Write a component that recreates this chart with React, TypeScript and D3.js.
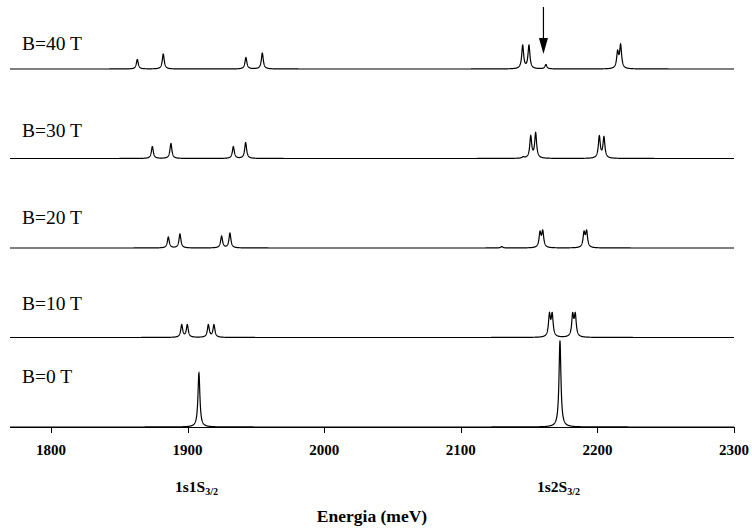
import React from "react";
import * as d3 from "d3";

// ---- data ----
const fieldLabels = ["B=0 T", "B=10 T", "B=20 T", "B=30 T", "B=40 T"];
const peakEnergies: number[][] = [
  [1908.3, 2172.6],
  [1895.7, 1899.8, 1915.2, 1919.3, 2164.9, 2166.9, 2181.9, 2183.8],
  [1885.9, 1894.4, 1924.9, 1931.0, 2130.0, 2158.0, 2160.0, 2190.2, 2192.1],
  [1874.2, 1887.8, 1933.5, 1942.5, 2145.7, 2151.2, 2154.8, 2201.4, 2204.8],
  [1863.2, 1882.2, 1942.7, 1954.7, 2145.3, 2149.9, 2162.3, 2214.8, 2217.0],
];
const peakHeights: number[][] = [
  [54, 86],
  [13, 13, 13, 13, 25, 25, 25, 25],
  [11, 14, 12, 15, 1.5, 17, 18, 17, 18],
  [12, 15, 12, 16, 2, 23, 26, 23, 22],
  [9.5, 15, 11.5, 16, 24, 24, 4.5, 19, 25],
];
const xTicks = [1800, 1900, 2000, 2100, 2200, 2300];
const stateNames = ["1s1S", "1s2S"];
const stateSubs = ["3/2", "3/2"];
const stateEnergies = [1908, 2173];
const arrowEnergy = 2160.5;
const xDomain = [1770, 2300];
const gamma = 0.85;
const offsetStep = 89.5;

function solveAmplitudes(e: number[], h: number[]): number[] {
  const n = e.length;
  const A = e.map((ei) => e.map((ej) => 1 / (1 + ((ei - ej) / gamma) ** 2)));
  const b = h.slice();
  for (let i = 0; i < n; i++) {
    let p = i;
    for (let r = i + 1; r < n; r++) if (Math.abs(A[r][i]) > Math.abs(A[p][i])) p = r;
    [A[i], A[p]] = [A[p], A[i]];
    [b[i], b[p]] = [b[p], b[i]];
    for (let r = i + 1; r < n; r++) {
      const f = A[r][i] / A[i][i];
      for (let c = i; c < n; c++) A[r][c] -= f * A[i][c];
      b[r] -= f * b[i];
    }
  }
  const x = new Array(n).fill(0);
  for (let i = n - 1; i >= 0; i--) {
    let s = b[i];
    for (let c = i + 1; c < n; c++) s -= A[i][c] * x[c];
    x[i] = s / A[i][i];
  }
  return x;
}

export default function App() {
  const W = 752, H = 531;
  const x = d3.scaleLinear().domain(xDomain).range([10, 734]);
  const y = d3.scaleLinear().domain([0, 450]).range([427, -23]);
  const grid = d3.range(xDomain[0], xDomain[1] + 0.001, 0.08);
  const labelY = [383, 310, 224, 137, 50];

  const traces = peakEnergies.map((es, k) => {
    const amps = solveAmplitudes(es, peakHeights[k]);
    const pts: [number, number][] = grid.map((E) => {
      let s = 0;
      es.forEach((e0, i) => {
        s += amps[i] / (1 + ((E - e0) / gamma) ** 2);
      });
      return [E, s + k * offsetStep];
    });
    const line = d3.line<[number, number]>().x((d) => x(d[0])).y((d) => y(d[1]));
    return line(pts) || "";
  });

  const font = "Liberation Serif, Times New Roman, Times, serif";
  const ax = x(arrowEnergy);

  return (
    <svg width={W} height={H} style={{ position: "absolute", left: 0, top: 0, background: "#fff" }}>
      <rect x={0} y={0} width={W} height={H} fill="#fff" />
      {traces.map((d, k) => (
        <path key={k} d={d} fill="none" stroke="#000" strokeWidth={1.2} />
      ))}
      {fieldLabels.map((t, k) => (
        <text key={t} x={22} y={labelY[k]} style={{ fontFamily: font }} fontSize={19.5} fill="#000">{t}</text>
      ))}
      <line x1={x(xDomain[0])} x2={x(xDomain[1])} y1={427.5} y2={427.5} stroke="#000" strokeWidth={1.2} />
      {xTicks.map((t) => (
        <g key={t}>
          <line x1={Math.round(x(t)) + 0.5} x2={Math.round(x(t)) + 0.5} y1={427} y2={433} stroke="#000" />
          <text x={x(t)} y={455} textAnchor="middle" style={{ fontFamily: font }} fontWeight="bold" fontSize={15}>{t}</text>
        </g>
      ))}
      {stateNames.map((s, i) => (
        <text key={s} x={x(stateEnergies[i]) - 2} y={492} textAnchor="middle" style={{ fontFamily: font }} fontWeight="bold" fontSize={15.5}>
          {s}
          <tspan fontSize={10} dy={3}>{stateSubs[i]}</tspan>
        </text>
      ))}
      <text x={372} y={522} textAnchor="middle" style={{ fontFamily: font }} fontWeight="bold" fontSize={17.5}>Energia (meV)</text>
      <line x1={ax} x2={ax} y1={7} y2={40} stroke="#000" strokeWidth={1.2} />
      <path d={`M${ax - 4.5},38 L${ax + 4.5},38 L${ax},54 Z`} fill="#000" />
    </svg>
  );
}
